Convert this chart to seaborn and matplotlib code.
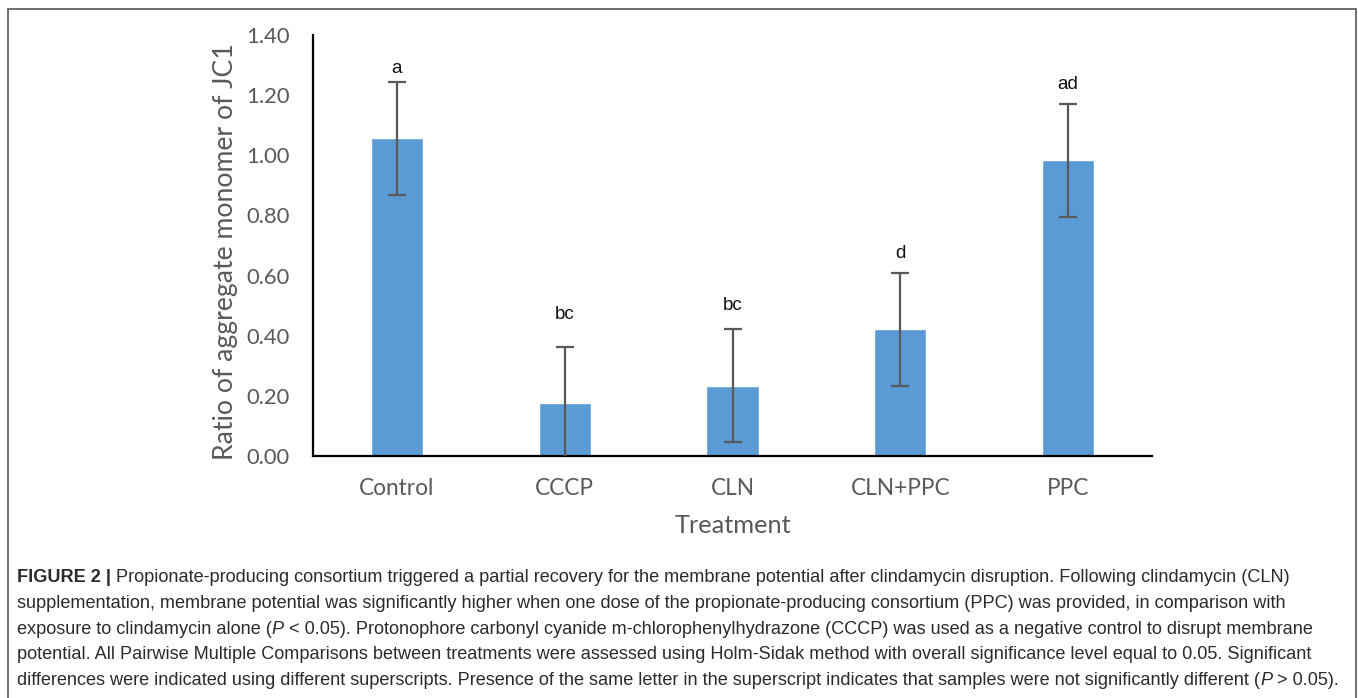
import matplotlib
matplotlib.use("Agg")
import matplotlib.pyplot as plt
import seaborn as sns
import pandas as pd
from matplotlib.lines import Line2D

categories = ["Control", "CCCP", "CLN", "CLN+PPC", "PPC"]
means = [1.057, 0.175, 0.233, 0.422, 0.984]
errors = [0.188, 0.187, 0.188, 0.188, 0.188]
letters = ["a", "bc", "bc", "d", "ad"]
letter_y = [1.29, 0.47, 0.50, 0.675, 1.235]
yticks = [0.0, 0.2, 0.4, 0.6, 0.8, 1.0, 1.2, 1.4]
ylabel = "Ratio of aggregate monomer of JC1"
xlabel = "Treatment"

caption_lines = [
    [("FIGURE 2 | ", "bold", "normal"),
     ("Propionate-producing consortium triggered a partial recovery for the membrane potential after clindamycin disruption. Following clindamycin (CLN)", "normal", "normal")],
    [("supplementation, membrane potential was significantly higher when one dose of the propionate-producing consortium (PPC) was provided, in comparison with", "normal", "normal")],
    [("exposure to clindamycin alone (", "normal", "normal"), ("P", "normal", "italic"),
     (" < 0.05). Protonophore carbonyl cyanide m-chlorophenylhydrazone (CCCP) was used as a negative control to disrupt membrane", "normal", "normal")],
    [("potential. All Pairwise Multiple Comparisons between treatments were assessed using Holm-Sidak method with overall significance level equal to 0.05. Significant", "normal", "normal")],
    [("differences were indicated using different superscripts. Presence of the same letter in the superscript indicates that samples were not significantly different (", "normal", "normal"),
     ("P", "normal", "italic"), (" > 0.05).", "normal", "normal")],
]

sns.set_theme(style="white")
plt.rcParams["font.family"] = ["Lato", "DejaVu Sans"]

W, H = 1358, 698
fig = plt.figure(figsize=(W / 100, H / 100), dpi=100)
ax = fig.add_axes([313 / W, 1 - 456 / H, (1152 - 313) / W, (456 - 35) / H])

df = pd.DataFrame({"Treatment": categories, "Ratio": means})
sns.barplot(data=df, x="Treatment", y="Ratio", color="#5B9BD5", saturation=1,
            width=0.31, errorbar=None, ax=ax, zorder=2)
ax.errorbar(range(len(categories)), means, yerr=errors, fmt="none",
            ecolor="#595959", elinewidth=1.6, capsize=6.5, capthick=1.6, zorder=3)
for i, (lab, yy) in enumerate(zip(letters, letter_y)):
    ax.text(i, yy, lab, ha="center", va="center", fontsize=13.5,
            family=["Liberation Sans", "DejaVu Sans"], color="#111111")

ax.set_xlim(-0.5, len(categories) - 0.5)
ax.set_ylim(0, 1.4)
ax.set_yticks(yticks)
ax.set_yticklabels([f"{t:.2f}" for t in yticks])
for s in ["top", "right"]:
    ax.spines[s].set_visible(False)
for s in ["left", "bottom"]:
    ax.spines[s].set_color("black")
    ax.spines[s].set_linewidth(1.6)
ax.tick_params(axis="both", length=0, labelcolor="#595959")
ax.tick_params(axis="y", labelsize=15.8, pad=17)
ax.tick_params(axis="x", labelsize=16.3, pad=15.5)
ax.set_xlabel(xlabel, fontsize=18.3, color="#595959", labelpad=11)
ax.set_ylabel(ylabel, fontsize=19.2, color="#595959", labelpad=6)
ax.yaxis.label.set_y(0.485)

# figure frame (left, top, right)
fc = "#6e6e6e"
fig.add_artist(Line2D([8 / W, 8 / W], [0, 1 - 9 / H], transform=fig.transFigure, color=fc, lw=1.4))
fig.add_artist(Line2D([8 / W, 1356 / W], [1 - 9 / H, 1 - 9 / H], transform=fig.transFigure, color=fc, lw=1.4))
fig.add_artist(Line2D([1356 / W, 1356 / W], [0, 1 - 9 / H], transform=fig.transFigure, color=fc, lw=1.4))

# caption
fig.canvas.draw()
renderer = fig.canvas.get_renderer()
cap_font = ["Liberation Sans", "DejaVu Sans"]
y0 = 577.5
for li, segs in enumerate(caption_lines):
    x = 17
    y = y0 + li * 25.75
    for txt, wt, st in segs:
        t = fig.text(x / W, 1 - y / H, txt, fontsize=13.1, weight=wt, style=st,
                     family=cap_font, color="#2b2b2b", ha="left", va="center")
        bb = t.get_window_extent(renderer=renderer)
        x += bb.width

fig.savefig("out.png", dpi=100)
